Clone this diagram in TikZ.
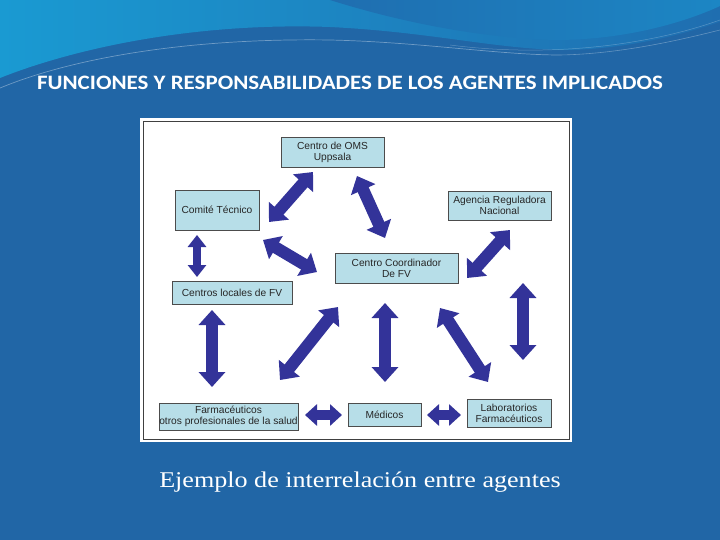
\documentclass[tikz,border=0pt]{standalone}
\usepackage{fontspec}
\setmainfont{Liberation Sans}
\newfontfamily\titlefont[FakeStretch=1.12]{Carlito}
\newfontfamily\capfont[FakeStretch=1.16]{Liberation Serif}
\usetikzlibrary{arrows.meta}
\definecolor{bgblue}{HTML}{2166A6}
\definecolor{lightcyan}{HTML}{1A9AD2}
\definecolor{midblue}{HTML}{1F6EB0}
\definecolor{topright}{HTML}{1C86C4}
\definecolor{boxfill}{HTML}{B7DEE8}
\definecolor{arrowblue}{HTML}{333399}
\tikzset{
  box/.style={draw=black!70, line width=0.6pt, fill=boxfill, inner sep=0pt,
    align=center, font=\fontsize{10.2}{11}\selectfont, text=black!85},
  bigarrow/.style={draw=arrowblue, line width=12pt,
    {Triangle[width=26pt,length=15pt]}-{Triangle[width=26pt,length=15pt]}},
  smallarrow/.style={draw=arrowblue, line width=8pt,
    {Triangle[width=18pt,length=12pt]}-{Triangle[width=18pt,length=12pt]}},
  harrow/.style={draw=arrowblue, line width=10pt,
    {Triangle[width=21pt,length=12pt]}-{Triangle[width=21pt,length=12pt]}},
}
\begin{document}
\begin{tikzpicture}[x=1pt,y=-1pt]
\useasboundingbox (0,0) rectangle (720,540);
% background
\fill[bgblue] (0,0) rectangle (720,540);
% waves
\shade[left color=lightcyan, right color=midblue]
  (0,0) -- (0,78) .. controls (70,50) and (190,22) .. (330,27)
  .. controls (430,32) and (490,48) .. (560,50)
  .. controls (630,50) and (690,32) .. (720,22) -- (720,0) -- cycle;
\shade[left color=midblue, right color=topright]
  (330,0) .. controls (400,22) and (480,38) .. (555,40)
  .. controls (630,40) and (690,20) .. (720,6) -- (720,0) -- cycle;
\draw[white, line width=0.7pt, opacity=0.35]
  (0,88) .. controls (80,55) and (200,38) .. (330,40)
  .. controls (420,42) and (500,55) .. (560,55);
\draw[white, line width=0.6pt, opacity=0.3]
  (560,55) .. controls (620,54) and (680,40) .. (720,30);
\draw[white, line width=0.5pt, opacity=0.25]
  (450,45) .. controls (550,58) and (650,45) .. (720,20);
% title
\node[text=white, font=\titlefont\bfseries\fontsize{20.5}{22}\selectfont, anchor=base]
  (title) at (350,90) {FUNCIONES Y RESPONSABILIDADES DE LOS AGENTES IMPLICADOS};
% panel
\fill[white] (140,118) rectangle (572,442);
\draw[black!75, line width=0.8pt] (143,121) rectangle (569,439);
% boxes
\node[box, minimum width=103pt, minimum height=30pt] (oms) at (332.5,152) {Centro de OMS\\Uppsala};
\node[box, minimum width=84pt, minimum height=40pt] (comite) at (217,210) {Comité Técnico};
\node[box, minimum width=123pt, minimum height=30pt] (coord) at (396.5,268) {Centro Coordinador\\De FV};
\node[box, minimum width=103pt, minimum height=29pt] (agencia) at (499.5,205.5) {Agencia Reguladora\\Nacional};
\node[box, minimum width=120pt, minimum height=23pt] (locales) at (232,292.5) {Centros locales de FV};
\node[box, minimum width=139pt, minimum height=27pt] (farm) at (228.5,416.5) {Farmacéuticos\\otros profesionales de la salud};
\node[box, minimum width=73pt, minimum height=23pt] (med) at (384.5,414.5) {Médicos};
\node[box, minimum width=84pt, minimum height=28pt] (lab) at (509,413) {Laboratorios\\Farmacéuticos};
% arrow end points
\coordinate (a1s) at (313,172); \coordinate (a1e) at (269,222);
\coordinate (a2s) at (357,176); \coordinate (a2e) at (385,238);
\coordinate (a3s) at (263,240); \coordinate (a3e) at (317,272);
\coordinate (a4s) at (197,235); \coordinate (a4e) at (197,277);
\coordinate (a5s) at (510,230); \coordinate (a5e) at (467,278);
\coordinate (a6s) at (212,310); \coordinate (a6e) at (212,387);
\coordinate (a7s) at (338,307); \coordinate (a7e) at (280,380);
\coordinate (a8s) at (385,303); \coordinate (a8e) at (385,382);
\coordinate (a9s) at (440,308); \coordinate (a9e) at (488,382);
\coordinate (a10s) at (523,283); \coordinate (a10e) at (523,360);
\coordinate (a11s) at (305,415); \coordinate (a11e) at (342,415);
\coordinate (a12s) at (427,415); \coordinate (a12e) at (461,415);
% arrows
\draw[bigarrow] (a1s) -- (a1e);
\draw[bigarrow] (a2s) -- (a2e);
\draw[bigarrow] (a3s) -- (a3e);
\draw[smallarrow] (a4s) -- (a4e);
\draw[bigarrow] (a5s) -- (a5e);
\draw[bigarrow] (a6s) -- (a6e);
\draw[bigarrow] (a7s) -- (a7e);
\draw[bigarrow] (a8s) -- (a8e);
\draw[bigarrow] (a9s) -- (a9e);
\draw[bigarrow] (a10s) -- (a10e);
\draw[harrow] (a11s) -- (a11e);
\draw[harrow] (a12s) -- (a12e);
% caption
\node[text=white, font=\capfont\fontsize{22.5}{26}\selectfont, anchor=base]
  (caption) at (360,487) {Ejemplo de interrelación entre agentes};
\end{tikzpicture}
\end{document}
